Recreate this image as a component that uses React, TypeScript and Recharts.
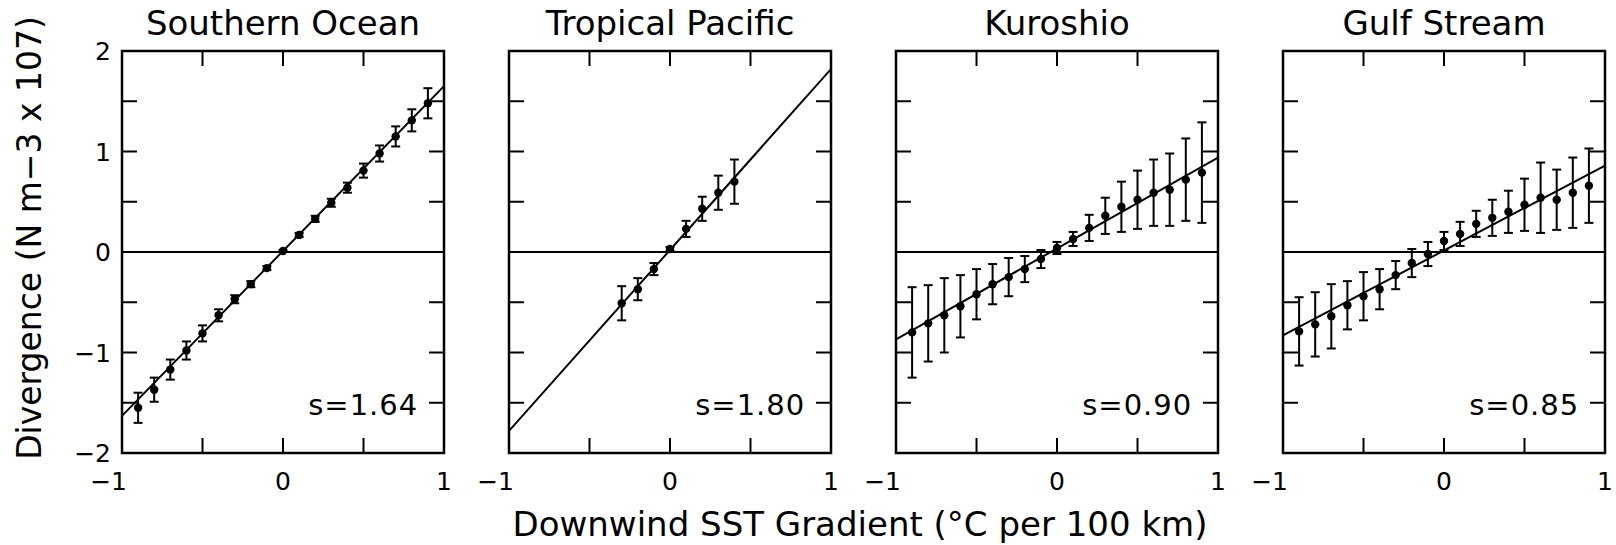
import React from 'react';
import {
  ComposedChart,
  Scatter,
  XAxis,
  YAxis,
  ErrorBar,
  ReferenceLine,
  ReferenceArea,
  ReferenceDot,
} from 'recharts';

const FONT = '"DejaVu Sans", sans-serif';

// ---------- data ----------
const panelTitles = ['Southern Ocean', 'Tropical Pacific', 'Kuroshio', 'Gulf Stream'];
const slopeLabels = ['s=1.64', 's=1.80', 's=0.90', 's=0.85'];

const gradX = [-0.9, -0.8, -0.7, -0.6, -0.5, -0.4, -0.3, -0.2, -0.1, 0, 0.1, 0.2, 0.3, 0.4, 0.5, 0.6, 0.7, 0.8, 0.9];
const tpGradX = [-0.3, -0.2, -0.1, 0, 0.1, 0.2, 0.3, 0.4];

const soDiv = [-1.55, -1.37, -1.17, -0.98, -0.81, -0.63, -0.47, -0.32, -0.16, 0.01, 0.17, 0.33, 0.49, 0.64, 0.81, 0.98, 1.15, 1.31, 1.48];
const soErr = [0.15, 0.12, 0.1, 0.09, 0.08, 0.06, 0.04, 0.03, 0.02, 0.01, 0.02, 0.03, 0.04, 0.05, 0.07, 0.08, 0.1, 0.11, 0.15];

const tpDiv = [-0.51, -0.37, -0.17, 0.03, 0.23, 0.43, 0.59, 0.7];
const tpErr = [0.17, 0.11, 0.06, 0.02, 0.08, 0.12, 0.17, 0.22];

const kuDiv = [-0.8, -0.71, -0.63, -0.54, -0.42, -0.32, -0.25, -0.17, -0.07, 0.04, 0.13, 0.24, 0.36, 0.45, 0.52, 0.59, 0.62, 0.72, 0.79];
const kuErr = [0.45, 0.38, 0.37, 0.31, 0.25, 0.2, 0.19, 0.13, 0.09, 0.06, 0.07, 0.13, 0.18, 0.25, 0.29, 0.33, 0.36, 0.41, 0.5];

const gsDiv = [-0.79, -0.72, -0.64, -0.53, -0.44, -0.37, -0.23, -0.11, -0.02, 0.11, 0.18, 0.28, 0.34, 0.4, 0.47, 0.54, 0.52, 0.59, 0.66];
const gsErr = [0.34, 0.32, 0.32, 0.24, 0.24, 0.2, 0.14, 0.14, 0.12, 0.09, 0.12, 0.13, 0.18, 0.21, 0.26, 0.35, 0.3, 0.35, 0.37];

// fitted line end points at x = -1 and x = 1
const fitX = [-1, 1];
const soFit = [-1.63, 1.65];
const tpFit = [-1.78, 1.82];
const kuFit = [-0.87, 0.94];
const gsFit = [-0.83, 0.86];

const xTicks = [-1, -0.5, 0, 0.5, 1];
const yTicks = [-2, -1.5, -1, -0.5, 0, 0.5, 1, 1.5, 2];

// ---------- layout ----------
const PLOT_LEFTS = [122, 509, 896, 1283];
const PW = 322;
const TOP = 51;
const PH = 402;
const H = 545;
const TICK = 15;
const TW = 2;

const Dot = (p: any) => <circle cx={p.cx} cy={p.cy} r={4.2} fill="#000" />;
const NoShape = () => <g />;

const fmt = (v: number) => (v < 0 ? '\u2212' + String(-v) : String(v));

const BottomTick = (p: any) => {
  const v = p.payload.value;
  const x = Number(p.x);
  const y = Number(p.y);
  return (
    <g>
      <path d={`M${x},${y}V${y - TICK}`} stroke="#000" strokeWidth={TW} fill="none" />
      {Number.isInteger(v) ? (
        <text
          x={v < 0 ? x + 5 : x}
          y={y + 37}
          textAnchor={v < 0 ? 'end' : 'middle'}
          fontSize={25}
          fontFamily={FONT}
          fill="#000"
        >
          {fmt(v)}
        </text>
      ) : null}
    </g>
  );
};

const TopTick = (p: any) => (
  <path d={`M${Number(p.x)},${Number(p.y)}V${Number(p.y) + TICK}`} stroke="#000" strokeWidth={TW} fill="none" />
);

const LeftTickLabeled = (p: any) => {
  const v = p.payload.value;
  const x = Number(p.x);
  const y = Number(p.y);
  return (
    <g>
      <path d={`M${x},${y}H${x + TICK}`} stroke="#000" strokeWidth={TW} fill="none" />
      {Number.isInteger(v) ? (
        <text x={x - 11} y={y + 9} textAnchor="end" fontSize={25} fontFamily={FONT} fill="#000">
          {fmt(v)}
        </text>
      ) : null}
    </g>
  );
};

const LeftTick = (p: any) => (
  <path d={`M${Number(p.x)},${Number(p.y)}H${Number(p.x) + TICK}`} stroke="#000" strokeWidth={TW} fill="none" />
);

const RightTick = (p: any) => (
  <path d={`M${Number(p.x)},${Number(p.y)}H${Number(p.x) - TICK}`} stroke="#000" strokeWidth={TW} fill="none" />
);

const TitleLabel = (p: any) => (
  <text x={p.cx} y={35} textAnchor="middle" fontSize={34} fontFamily={FONT} fill="#000">
    {p.text}
  </text>
);

const YLabel = () => (
  <text
    x={41}
    y={238}
    transform="rotate(-90 41 238)"
    textAnchor="middle"
    fontSize={33}
    fontFamily={FONT}
    fill="#000"
  >
    Divergence (N m−3 x 107)
  </text>
);

const SLabel = (p: any) => {
  const vb = p.viewBox || {};
  const x = (vb.x || 0) + (vb.width || 0) / 2;
  const y = (vb.y || 0) + (vb.height || 0) / 2;
  return (
    <text x={x} y={y} textAnchor="end" fontSize={29} letterSpacing={1} fontFamily={FONT} fill="#000">
      {p.text}
    </text>
  );
};

function Panel(props: { idx: number; xs: number[]; ys: number[]; errs: number[]; fit: number[] }) {
  const { idx, xs, ys, errs, fit } = props;
  const first = idx === 0;
  const padL = first ? 122 : 40;
  const padR = 11;
  const data = xs.map((x, i) => ({ x, y: ys[i], e: errs[i] }));
  const fitData = fitX.map((x, i) => ({ x, y: fit[i] }));
  return (
    <div style={{ position: 'absolute', left: PLOT_LEFTS[idx] - padL, top: 0 }}>
      <ComposedChart
        width={padL + PW + padR}
        height={H}
        margin={{ top: TOP - 1, left: padL - 1, right: padR - 1, bottom: H - TOP - PH - 1 }}
      >
        <XAxis
          xAxisId="b"
          dataKey="x"
          type="number"
          domain={[-1, 1]}
          ticks={xTicks}
          interval={0}
          allowDataOverflow
          orientation="bottom"
          height={1}
          tickSize={0}
          tickMargin={0}
          tick={BottomTick}
          tickLine={false}
          axisLine={false}
        />
        <XAxis
          xAxisId="t"
          dataKey="x"
          type="number"
          domain={[-1, 1]}
          ticks={xTicks}
          interval={0}
          allowDataOverflow
          orientation="top"
          height={1}
          tickSize={0}
          tickMargin={0}
          tick={TopTick}
          tickLine={false}
          axisLine={false}
          label={<TitleLabel cx={padL + PW / 2} text={panelTitles[idx]} />}
        />
        <YAxis
          yAxisId="l"
          dataKey="y"
          type="number"
          domain={[-2, 2]}
          ticks={yTicks}
          interval={0}
          allowDataOverflow
          orientation="left"
          width={1}
          tickSize={0}
          tickMargin={0}
          tick={first ? LeftTickLabeled : LeftTick}
          tickLine={false}
          axisLine={false}
          label={first ? <YLabel /> : undefined}
        />
        <YAxis
          yAxisId="r"
          dataKey="y"
          type="number"
          domain={[-2, 2]}
          ticks={yTicks}
          interval={0}
          allowDataOverflow
          orientation="right"
          width={1}
          tickSize={0}
          tickMargin={0}
          tick={RightTick}
          tickLine={false}
          axisLine={false}
        />
        <ReferenceArea
          xAxisId="b"
          yAxisId="l"
          x1={-1}
          x2={1}
          y1={-2}
          y2={2}
          fill="none"
          fillOpacity={0}
          stroke="#000"
          strokeWidth={2.5}
          ifOverflow="visible"
        />
        <ReferenceLine xAxisId="b" yAxisId="l" y={0} stroke="#000" strokeWidth={2} />
        <Scatter
          xAxisId="b"
          yAxisId="l"
          data={fitData}
          dataKey="y"
          line={{ stroke: '#000', strokeWidth: 2 }}
          lineType="joint"
          shape={NoShape}
          isAnimationActive={false}
        />
        <Scatter xAxisId="b" yAxisId="l" data={data} dataKey="y" shape={Dot} isAnimationActive={false}>
          <ErrorBar dataKey="e" direction="y" width={4.5} stroke="#000" strokeWidth={2} isAnimationActive={false} />
        </Scatter>
        <ReferenceDot
          xAxisId="b"
          yAxisId="l"
          x={0.84}
          y={-1.62}
          r={0}
          fill="none"
          stroke="none"
          label={<SLabel text={slopeLabels[idx]} />}
        />
      </ComposedChart>
    </div>
  );
}

export default function App() {
  return (
    <div
      style={{
        position: 'absolute',
        left: 0,
        top: 0,
        width: 1616,
        height: 545,
        overflow: 'hidden',
        background: '#fff',
      }}
    >
      <Panel idx={0} xs={gradX} ys={soDiv} errs={soErr} fit={soFit} />
      <Panel idx={1} xs={tpGradX} ys={tpDiv} errs={tpErr} fit={tpFit} />
      <Panel idx={2} xs={gradX} ys={kuDiv} errs={kuErr} fit={kuFit} />
      <Panel idx={3} xs={gradX} ys={gsDiv} errs={gsErr} fit={gsFit} />
      <svg width={1616} height={545} style={{ position: 'absolute', left: 0, top: 0, pointerEvents: 'none' }}>
        <text x={860} y={536} textAnchor="middle" fontSize={34} fontFamily={FONT} fill="#000">
          Downwind SST Gradient (°C per 100 km)
        </text>
      </svg>
    </div>
  );
}
